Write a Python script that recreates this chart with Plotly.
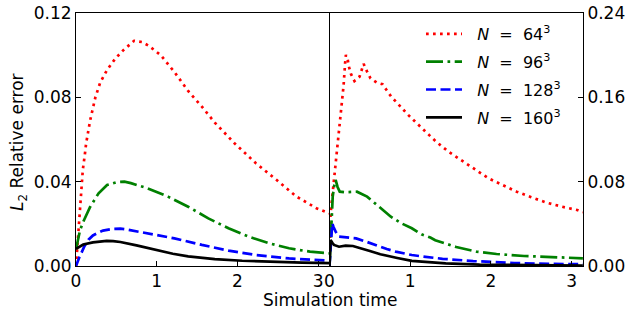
import math
import plotly.graph_objects as go

# ---------------- data ----------------
PAD = "\u00a0\u00a0"
labels = [PAD + "<i>N</i>\u00a0 =\u00a0 64<sup>3</sup>", PAD + "<i>N</i>\u00a0 =\u00a0 96<sup>3</sup>",
          PAD + "<i>N</i>\u00a0 =\u00a0 128<sup>3</sup>", PAD + "<i>N</i>\u00a0 =\u00a0 160<sup>3</sup>"]

# left panel
L_t64 = [0, 0.008, 0.02, 0.033, 0.05, 0.063, 0.084, 0.11, 0.125, 0.175, 0.24, 0.3, 0.385, 0.49,
         0.59, 0.72, 0.82, 0.9, 1.05, 1.22, 1.39, 1.56, 1.72, 1.97, 2.23, 2.48, 2.73, 2.98, 3.14]
L_v64 = [0, 0.0044, 0.012, 0.0195, 0.029, 0.034, 0.0455, 0.053, 0.058, 0.069, 0.080, 0.087, 0.093,
         0.0985, 0.1025, 0.1068, 0.1062, 0.1045, 0.100, 0.092, 0.083, 0.0756, 0.068, 0.058, 0.0487,
         0.041, 0.033, 0.0274, 0.025]
L_t96 = [0, 0.02, 0.05, 0.09, 0.175, 0.28, 0.385, 0.51, 0.6, 0.68, 0.89, 1.14, 1.39, 1.64, 1.89,
         2.14, 2.39, 2.64, 2.9, 3.14]
L_v96 = [0.008, 0.012, 0.017, 0.021, 0.028, 0.0345, 0.0384, 0.0398, 0.040, 0.0393, 0.0368, 0.0329,
         0.0281, 0.0226, 0.0179, 0.0139, 0.0108, 0.0084, 0.0068, 0.006]
L_t128 = [0, 0.01, 0.044, 0.07, 0.106, 0.155, 0.21, 0.26, 0.335, 0.46, 0.55, 0.63, 0.79, 0.97,
          1.22, 1.56, 1.89, 2.23, 2.64, 3.14]
L_v128 = [0, 0.0012, 0.0044, 0.0065, 0.0095, 0.0125, 0.0145, 0.0155, 0.0168, 0.0176, 0.0177,
          0.0173, 0.0162, 0.0150, 0.0131, 0.010, 0.0073, 0.0052, 0.0036, 0.0025]
L_t160 = [0, 0.05, 0.09, 0.21, 0.3, 0.38, 0.46, 0.55, 0.75, 1.0, 1.2, 1.39, 1.72, 2.06, 2.39, 2.8, 3.14]
L_v160 = [0.0081, 0.0095, 0.0102, 0.0112, 0.0117, 0.0119, 0.0118, 0.0114, 0.0098, 0.0076, 0.0058,
          0.0046, 0.0033, 0.0025, 0.0020, 0.0016, 0.0014]

# right panel
R_t64 = [0, 0.006, 0.02, 0.04, 0.055, 0.064, 0.105, 0.149, 0.174, 0.194, 0.203, 0.225, 0.241, 0.267,
         0.309, 0.372, 0.403, 0.423, 0.466, 0.508, 0.584, 0.657, 0.712, 0.771, 0.835, 0.902, 0.966,
         1.04, 1.11, 1.178, 1.32, 1.474, 1.643, 1.80, 1.97, 2.147, 2.32, 2.50, 2.69, 2.88, 3.07, 3.14]
R_v64 = [0.0, 0.04, 0.055, 0.07, 0.0832, 0.0895, 0.1195, 0.148, 0.1708, 0.1929, 0.2002, 0.196, 0.189,
         0.182, 0.1755, 0.1796, 0.1866, 0.1917, 0.1843, 0.178, 0.174, 0.1724, 0.1663, 0.160, 0.155,
         0.149, 0.144, 0.1385, 0.1335, 0.1284, 0.118, 0.1085, 0.0999, 0.0911, 0.0832, 0.0768, 0.0705,
         0.0652, 0.0601, 0.0563, 0.0531, 0.051]
R_t96 = [0, 0.01, 0.025, 0.04, 0.06, 0.076, 0.1, 0.127, 0.18, 0.23, 0.34, 0.466, 0.59, 0.76, 0.89,
         1.02, 1.14, 1.25, 1.31, 1.57, 1.82, 2.07, 2.41, 2.84, 3.14]
R_v96 = [0, 0.02, 0.045, 0.066, 0.077, 0.0816, 0.075, 0.0705, 0.070, 0.0702, 0.0705, 0.0658, 0.058,
         0.0468, 0.0405, 0.0358, 0.030, 0.027, 0.0245, 0.0180, 0.0136, 0.0114, 0.0095, 0.0082, 0.0073]
R_t128 = [0, 0.015, 0.034, 0.05, 0.076, 0.118, 0.2, 0.33, 0.457, 0.585, 0.71, 0.82, 1.02, 1.14, 1.4,
          1.78, 2.29, 2.71, 3.14]
R_v128 = [0, 0.02, 0.0405, 0.037, 0.0326, 0.0278, 0.0272, 0.0262, 0.023, 0.0193, 0.0161, 0.0136,
          0.0104, 0.0092, 0.0068, 0.0047, 0.0028, 0.0021, 0.0017]
R_t160 = [0, 0.006, 0.013, 0.035, 0.055, 0.118, 0.2, 0.29, 0.37, 0.5, 0.63, 0.75, 0.84, 1.02, 1.27,
          1.44, 1.86, 2.29, 2.71, 3.14]
R_v160 = [0, 0.012, 0.0247, 0.022, 0.020, 0.0183, 0.0193, 0.019, 0.0174, 0.0142, 0.0111, 0.0088,
          0.0076, 0.0048, 0.0033, 0.0025, 0.0013, 0.0008, 0.0005, 0.0004]

left_ticks = [0, 0.04, 0.08, 0.12]
right_ticks = [0, 0.08, 0.16, 0.24]
x_ticks = [0, 1, 2, 3]

# ---------------- styling ----------------
colors = ["#ff0000", "#008000", "#0000ff", "#000000"]
dashes = ["2.7px,4.3px", "17px,4.5px,2.7px,4.5px", "10px,4.5px", "solid"]
LW = 2.7
FONT = "DejaVu Sans"

W, H = 634, 317
ML, MT = 76, 13
MR, MB = W - 583, H - 266
plot_w = W - ML - MR
plot_h = H - MT - MB

def px_x(page_x):
    return (page_x - ML) / plot_w

def px_y(page_y):
    return (H - MB - page_y) / plot_h

fig = go.Figure()
left = [(L_t64, L_v64), (L_t96, L_v96), (L_t128, L_v128), (L_t160, L_v160)]
right = [(R_t64, R_v64), (R_t96, R_v96), (R_t128, R_v128), (R_t160, R_v160)]

for i, (t, v) in enumerate(left):
    fig.add_trace(go.Scatter(x=t, y=v, mode="lines", xaxis="x", yaxis="y",
                             line=dict(color=colors[i], width=LW, dash=dashes[i]),
                             showlegend=False))
for i, (t, v) in enumerate(right):
    fig.add_trace(go.Scatter(x=t, y=v, mode="lines", xaxis="x2", yaxis="y2",
                             name=labels[i], legendgroup=f"g{i}",
                             line=dict(color=colors[i], width=LW, dash=dashes[i])))

axis_common = dict(showline=True, linecolor="black", linewidth=1,
                   ticks="inside", ticklen=5, tickwidth=1, tickcolor="black",
                   showgrid=False, zeroline=False, automargin=False,
                   ticklabeloverflow="allow",
                   tickfont=dict(family=FONT, size=17, color="black"))

fig.update_layout(
    width=W, height=H,
    margin=dict(l=ML, r=MR, t=MT, b=MB, autoexpand=False),
    paper_bgcolor="white", plot_bgcolor="white",
    font=dict(family=FONT, size=17, color="black"),
    xaxis=dict(domain=[0, 0.5], range=[0, math.pi], tickvals=x_ticks, anchor="y", mirror=True,
               **axis_common),
    yaxis=dict(range=[0, 0.12], tickvals=left_ticks, tickformat=".2f", anchor="x", mirror=False,
               **axis_common),
    xaxis2=dict(domain=[0.5, 1], range=[0, math.pi], tickvals=x_ticks, anchor="y2", mirror=True,
                **axis_common),
    yaxis2=dict(range=[0, 0.24], tickvals=right_ticks, tickformat=".2f", anchor="x2", side="right",
                mirror=True, **axis_common),
    legend=dict(x=px_x(421), y=px_y(17), xanchor="left", yanchor="top", bgcolor="rgba(0,0,0,0)",
                font=dict(family=FONT, size=16, color="black"), tracegroupgap=4,
                itemwidth=36),
    annotations=[
        dict(text="<i>L</i><sub>2</sub> Relative error", x=px_x(19), xref="paper",
             y=px_y(142), yref="paper", xanchor="center", yanchor="middle",
             showarrow=False, textangle=-90,
             font=dict(family=FONT, size=17, color="black")),
        dict(text="Simulation time", x=px_x(330), xref="paper",
             y=px_y(300), yref="paper", xanchor="center", yanchor="middle",
             showarrow=False, font=dict(family=FONT, size=17, color="black")),
    ],
)

fig.write_html("out.html", config={"displayModeBar": False},
               post_script="document.body.style.margin='0px';document.body.style.overflow='hidden';")
